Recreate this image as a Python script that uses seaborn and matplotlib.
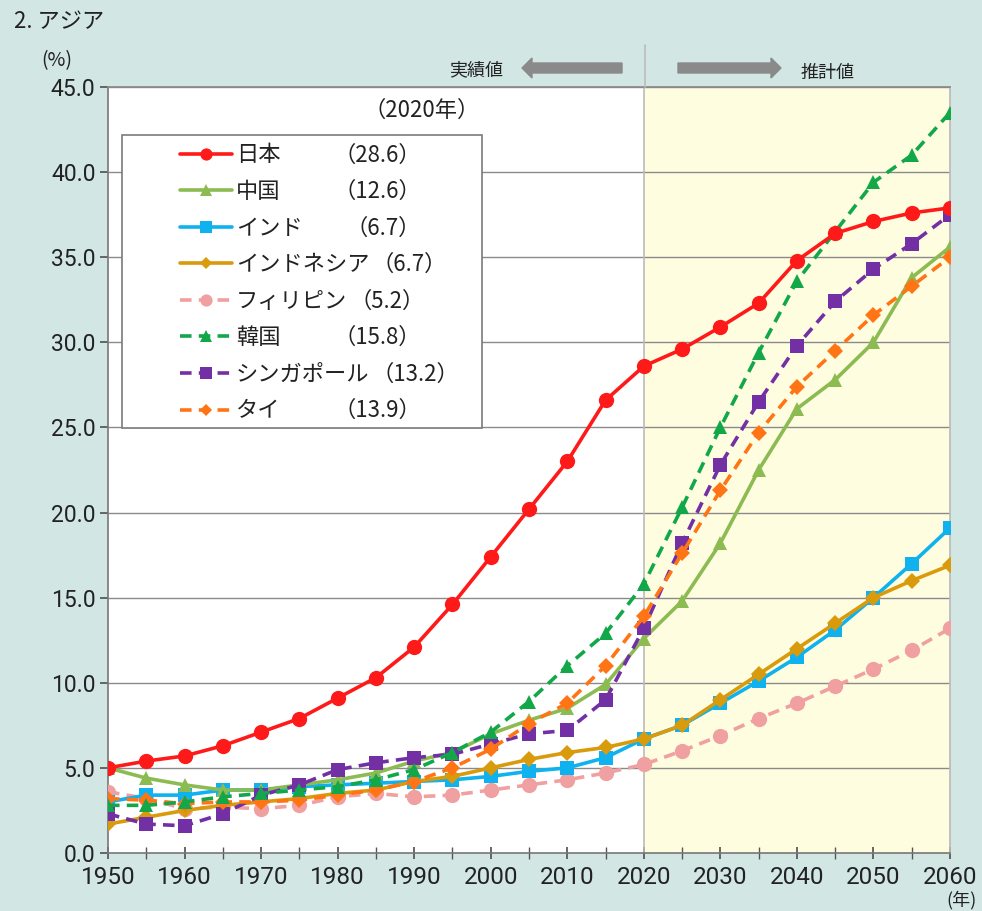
import matplotlib
matplotlib.use("Agg")
import matplotlib.pyplot as plt
from matplotlib.lines import Line2D
from matplotlib.patches import Rectangle, FancyArrow
import seaborn as sns
import pandas as pd
import numpy as np

years = list(range(1950, 2061, 5))

japan = [5.0, 5.4, 5.7, 6.3, 7.1, 7.9, 9.1, 10.3, 12.1, 14.6, 17.4, 20.2, 23.0, 26.6, 28.6,
         29.6, 30.9, 32.3, 34.8, 36.4, 37.1, 37.6, 37.9]
china = [5.0, 4.4, 4.0, 3.7, 3.7, 4.0, 4.3, 4.7, 5.4, 5.9, 7.0, 7.8, 8.5, 9.9, 12.6,
         14.8, 18.2, 22.5, 26.1, 27.8, 30.0, 33.8, 35.6]
india = [3.0, 3.4, 3.4, 3.7, 3.7, 3.9, 4.0, 4.1, 4.2, 4.3, 4.5, 4.8, 5.0, 5.6, 6.7,
         7.5, 8.8, 10.1, 11.5, 13.1, 15.0, 17.0, 19.1]
indonesia = [1.7, 2.1, 2.5, 2.8, 3.0, 3.2, 3.5, 3.7, 4.2, 4.5, 5.0, 5.5, 5.9, 6.2, 6.7,
             7.5, 9.0, 10.5, 12.0, 13.5, 15.0, 16.0, 16.9]
philippines = [3.6, 3.2, 2.6, 2.7, 2.6, 2.8, 3.3, 3.5, 3.3, 3.4, 3.7, 4.0, 4.3, 4.7, 5.2,
               6.0, 6.9, 7.9, 8.8, 9.8, 10.8, 11.9, 13.2]
korea = [2.8, 2.8, 3.0, 3.3, 3.5, 3.7, 3.9, 4.3, 4.9, 5.9, 7.1, 8.9, 11.0, 12.9, 15.8,
         20.3, 25.0, 29.4, 33.6, 36.5, 39.4, 41.0, 43.5]
singapore = [2.3, 1.7, 1.6, 2.3, 3.4, 4.0, 4.9, 5.3, 5.6, 5.8, 6.4, 7.0, 7.2, 9.0, 13.2,
             18.2, 22.8, 26.5, 29.8, 32.4, 34.3, 35.8, 37.5]
thailand = [3.2, 3.1, 2.9, 3.0, 3.0, 3.1, 3.4, 3.7, 4.2, 5.0, 6.1, 7.6, 8.8, 11.0, 13.9,
            17.6, 21.3, 24.7, 27.4, 29.5, 31.6, 33.3, 35.0]

names = ["日本", "中国", "インド", "インドネシア", "フィリピン", "韓国", "シンガポール", "タイ"]
values_2020 = ["（28.6）", "（12.6）", "（6.7）", "（6.7）", "（5.2）", "（15.8）", "（13.2）", "（13.9）"]
series = [japan, china, india, indonesia, philippines, korea, singapore, thailand]

colors = ["#FF1A1A", "#8CBB52", "#0FB2EE", "#D99A0B", "#F0A0A0", "#12A84A", "#7330A5", "#FF7415"]
markers = ["o", "^", "s", "D", "o", "^", "s", "D"]
msizes = [11, 10, 10, 8, 11, 10, 10, 8]
styles = ["-", "-", "-", "-", "--", "--", "--", "--"]

sns.set_theme(style="white")
plt.rcParams['font.family'] = ['Noto Sans CJK JP', 'DejaVu Sans']

BG = "#D2E7E3"
TXT = "#222222"
fig = plt.figure(figsize=(9.82, 9.11), dpi=100, facecolor=BG)
ax = fig.add_axes([108/982, 1-853/911, 842/982, 766/911])
ax.set_facecolor("white")

ax.axvspan(2020, 2060, color="#FFFDE0", zorder=0)

for ys in np.arange(5, 46, 5):
    ax.axhline(ys, color="#8A8A8A", lw=1.0, zorder=1)

df = pd.DataFrame({"year": years * len(names),
                   "country": np.repeat(names, len(years)),
                   "value": np.concatenate(series)})

DASH = (0, (3.2, 2.0))
order_draw = [4, 2, 3, 1, 6, 7, 5, 0]
for i in order_draw:
    sub = df[df["country"] == names[i]]
    sns.lineplot(data=sub, x="year", y="value", ax=ax, color=colors[i], lw=2.6,
                 marker=markers[i], markersize=msizes[i],
                 markeredgewidth=0, zorder=3 + (i == 0), legend=False)
    ax.lines[-1].set_linestyle(DASH if styles[i] == "--" else "-")

ax.set_xlim(1950, 2060)
ax.set_ylim(0, 45)
ax.set_xlabel("")
ax.set_ylabel("")
ax.set_xticks(range(1950, 2061, 10))
ax.set_xticks(range(1955, 2060, 10), minor=True)
ax.set_yticks(np.arange(0, 46, 5))
ax.set_yticklabels([f"{v:.1f}" for v in np.arange(0, 46, 5)])
ax.tick_params(axis="x", which="both", direction="inout", length=9, color="#555555",
               labelsize=17.5, pad=5, bottom=True)
ax.tick_params(axis="y", direction="out", length=6, color="#555555", labelsize=16.5, pad=3, left=True)
for lbl in ax.get_xticklabels() + ax.get_yticklabels():
    lbl.set_color(TXT)
    lbl.set_fontfamily("Roboto")

for s in ["left", "bottom"]:
    ax.spines[s].set_color("#777777")
    ax.spines[s].set_linewidth(1.2)
ax.spines["top"].set_color("#8A8A8A")
ax.spines["right"].set_color("#BBBBBB")

ax.axvline(2020, color="#BBBBBB", lw=1.2, zorder=2)
fig.add_artist(Line2D([645/982, 645/982], [1-45/911, 1-87/911], color="#BBBBBB", lw=1.2))

fig.patches.append(FancyArrow(622/982, 1-68/911, -100/982, 0, width=10/911, head_width=20/911,
                              head_length=10/982, length_includes_head=True,
                              color="#8A8A8A", transform=fig.transFigure, figure=fig))
fig.patches.append(FancyArrow(678/982, 1-68/911, 103/982, 0, width=10/911, head_width=20/911,
                              head_length=10/982, length_includes_head=True,
                              color="#8A8A8A", transform=fig.transFigure, figure=fig))
fig.text(476/982, 1-70/911, "実績値", ha="center", va="center", fontsize=13, color=TXT)
fig.text(828/982, 1-73/911, "推計値", ha="center", va="center", fontsize=13, color=TXT)

fig.text(14/982, 1-22/911, "2. アジア", ha="left", va="center", fontsize=16, color=TXT)
fig.text(57/982, 1-61/911, "(%)", ha="center", va="center", fontsize=14, color=TXT)
fig.text(962/982, 1-900/911, "(年)", ha="center", va="center", fontsize=13, color=TXT)

# legend box
ax.add_patch(Rectangle(((122-108)/842, (853-428)/766), 360/842, 293/766, transform=ax.transAxes,
                       facecolor="white", edgecolor="#7A7A7A", lw=1.2, zorder=6))
ax.text((422-108)/842, (853-110)/766, "（2020年）", transform=ax.transAxes, ha="center",
        va="center", fontsize=16, color=TXT, zorder=7)

handles = [Line2D([], [], color=colors[i], lw=2.6,
                  linestyle=DASH if styles[i] == "--" else "-",
                  marker=markers[i], markersize=msizes[i] * 0.8, markeredgewidth=0)
           for i in range(len(names))]
leg = ax.legend(handles, names, loc="upper left",
                bbox_to_anchor=((166-108)/842, (853-129)/766), frameon=False,
                fontsize=16, handlelength=2.3, handletextpad=0.2, labelspacing=0.61,
                borderpad=0.15)
leg.set_zorder(8)
for t in leg.get_texts():
    t.set_color(TXT)

fig.canvas.draw()
renderer = fig.canvas.get_renderer()
inv = fig.transFigure.inverted()
for t, val in zip(leg.get_texts(), values_2020):
    bb = t.get_window_extent(renderer)
    yc = (bb.y0 + bb.y1) / 2
    vt = fig.text(0, 0, val, fontsize=16, color=TXT, ha="right", va="center", zorder=9)
    w = vt.get_window_extent(renderer).width
    xr = max(421, bb.x1 + 2 + w)
    vt.set_position(inv.transform((xr, yc)))

fig.savefig("out.png", dpi=100, facecolor=BG)
